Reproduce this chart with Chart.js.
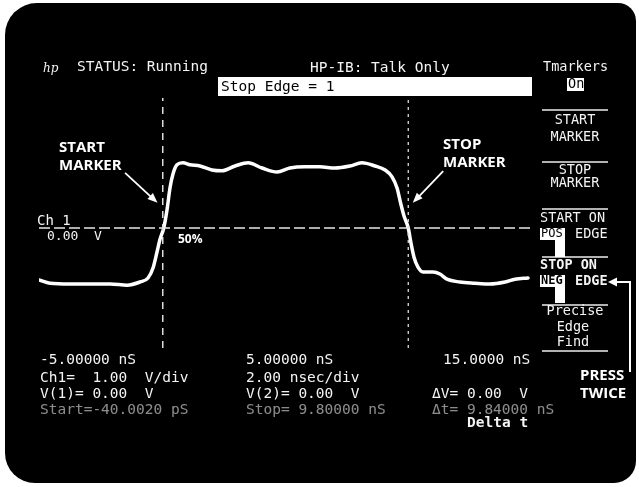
<!DOCTYPE html>
<html><head><meta charset="utf-8">
<script src="https://cdn.jsdelivr.net/npm/chart.js@4.4.0/dist/chart.umd.min.js"></script>
<style>
html,body{margin:0;padding:0;background:#fff;}
#wrap{position:relative;width:639px;height:487px;overflow:hidden;background:#fff;}
#screen{position:absolute;left:5px;top:3px;width:631px;height:480px;background:#000;border-radius:32px 18px 22px 30px;}
#c{position:absolute;left:0;top:0;}
svg{position:absolute;left:0;top:0;}
.t{position:absolute;white-space:pre;color:#f4f4f4;font-family:"DejaVu Sans Mono",monospace;font-size:14.5px;line-height:14.5px;}
.s{font-size:13.5px;line-height:13.5px;}
.dim{color:rgba(255,255,255,0.55);}
.blk{color:#000;}
.b{font-weight:bold;}
.a{position:absolute;white-space:pre;color:#fff;font-family:"Open Sans",sans-serif;font-weight:700;font-size:15px;line-height:15px;}
.ctr{text-align:center;width:70px;}
</style></head>
<body>
<div id="wrap">
<div id="screen"></div>
<canvas id="c" width="639" height="487"></canvas>
<svg width="639" height="487">
  <rect x="218" y="77" width="314" height="19" fill="#fff"/>
  <rect x="567" y="78" width="17" height="13" fill="#fff"/>
  <g stroke="#eee" stroke-width="1.5">
    <line x1="542" y1="110" x2="608" y2="110"/>
    <line x1="542" y1="162" x2="608" y2="162"/>
    <line x1="542" y1="209" x2="608" y2="209"/>
    <line x1="542" y1="257" x2="608" y2="257"/>
    <line x1="542" y1="305" x2="608" y2="305"/>
    <line x1="542" y1="351" x2="608" y2="351"/>
  </g>
  <polygon points="540,228 565,228 565,257 555,257 555,240 540,240" fill="#fff"/>
  <polygon points="540,275 565,275 565,303 555,303 555,287 540,287" fill="#fff"/>
  <polyline points="630,372 630,282 614,282" fill="none" stroke="#fff" stroke-width="2"/>
  <polygon points="608,282 617,277.5 617,286.5" fill="#fff"/>
</svg>

<div class="t" style="left:43px;top:61px;font-family:'DejaVu Serif',serif;font-style:italic;font-size:12px;">hp</div>
<div class="t" style="left:77px;top:59px;">STATUS: Running</div>
<div class="t" style="left:310px;top:60px;">HP-IB: Talk Only</div>
<div class="t blk" style="left:221px;top:79px;">Stop Edge = 1</div>
<div class="t s" style="left:543px;top:60px;">Tmarkers</div>
<div class="t s blk" style="left:568px;top:77px;">On</div>

<div class="t s ctr" style="left:540px;top:113px;">START</div>
<div class="t s ctr" style="left:540px;top:130px;">MARKER</div>
<div class="t s ctr" style="left:540px;top:163px;">STOP</div>
<div class="t s ctr" style="left:540px;top:176px;">MARKER</div>
<div class="t s" style="left:540px;top:211px;">START ON</div>
<div class="t s blk" style="left:541px;top:227px;font-size:12px;">POS</div>
<div class="t s" style="left:575px;top:227px;">EDGE</div>
<div class="t s b" style="left:540px;top:258px;">STOP ON</div>
<div class="t s blk b" style="left:541px;top:274px;font-size:12px;">NEG</div>
<div class="t s b" style="left:575px;top:274px;">EDGE</div>
<div class="t s ctr" style="left:540px;top:304px;">Precise</div>
<div class="t s ctr" style="left:538px;top:320px;">Edge</div>
<div class="t s ctr" style="left:538px;top:335px;">Find</div>

<div class="t" style="left:37px;top:213px;font-size:14px;">Ch 1</div>
<div class="t" style="left:47px;top:229px;font-size:13px;">0.00  V</div>

<div class="t" style="left:40px;top:352px;">-5.00000 nS</div>
<div class="t" style="left:40px;top:370px;">Ch1=  1.00  V/div</div>
<div class="t" style="left:40px;top:386px;">V(1)= 0.00  V</div>
<div class="t dim" style="left:40px;top:402px;">Start=-40.0020 pS</div>

<div class="t" style="left:246px;top:352px;">5.00000 nS</div>
<div class="t" style="left:246px;top:370px;">2.00 nsec/div</div>
<div class="t" style="left:246px;top:386px;">V(2)= 0.00  V</div>
<div class="t dim" style="left:246px;top:402px;">Stop= 9.80000 nS</div>

<div class="t" style="left:443px;top:352px;">15.0000 nS</div>
<div class="t" style="left:432px;top:386px;">ΔV= 0.00  V</div>
<div class="t dim" style="left:432px;top:402px;">Δt= 9.84000 nS</div>
<div class="t b" style="left:467px;top:415px;">Delta t</div>

<div class="a" style="left:59px;top:139px;">START</div>
<div class="a" style="left:59px;top:157px;">MARKER</div>
<div class="a" style="left:443px;top:136px;">STOP</div>
<div class="a" style="left:443px;top:154px;">MARKER</div>
<div class="a" style="left:178px;top:233px;font-size:12px;line-height:12px;">50%</div>
<div class="a" style="left:580px;top:367px;">PRESS</div>
<div class="a" style="left:580px;top:385px;">TWICE</div>
</div>

<script>
// Waveform samples read from the display (time in ns, level in V)
const timeNs = [-5.0,-4.56,-3.76,-2.96,-2.15,-1.47,-0.95,-0.63,-0.43,-0.27,-0.15,0.0,0.13,0.25,0.37,0.53,0.77,1.05,1.45,1.93,2.33,2.86,3.38,3.94,4.54,5.06,5.66,6.26,6.86,7.46,7.94,8.47,8.87,9.15,9.35,9.51,9.63,9.80,9.91,10.03,10.19,10.39,10.79,11.07,11.35,11.87,12.47,13.07,13.68,14.08,14.6];
const volts  = [-1.30,-1.38,-1.40,-1.40,-1.40,-1.43,-1.35,-1.25,-1.00,-0.60,-0.28,0.0,0.45,1.00,1.35,1.58,1.63,1.58,1.55,1.45,1.43,1.55,1.63,1.50,1.40,1.50,1.53,1.53,1.50,1.55,1.63,1.55,1.45,1.28,1.00,0.58,0.30,0.0,-0.38,-0.73,-0.98,-1.10,-1.10,-1.15,-1.28,-1.35,-1.38,-1.40,-1.35,-1.28,-1.25];
// Markers and reference level
const startMarkerNs = -0.04;
const stopMarkerNs = 9.80;
const refLevelV = 0.0;
const refLineEndNs = 14.7;
// Axis ranges (2 ns/div)
const xRange = [-5, 15];
const yRange = [-3.0, 3.25];
// Annotation arrows (data coordinates: [ns, V])
const arrowStart = {from:[-1.55,1.38], to:[-0.25,0.63]};
const arrowStop  = {from:[11.2,1.42], to:[9.98,0.63]};

const trace = timeNs.map((t,i)=>({x:t,y:volts[i]}));

const arrowPlugin = {
  id:'arrows',
  afterDatasetsDraw(chart){
    const {ctx, scales:{x,y}} = chart;
    [arrowStart, arrowStop].forEach(a=>{
      const x1=x.getPixelForValue(a.from[0]), y1=y.getPixelForValue(a.from[1]);
      const x2=x.getPixelForValue(a.to[0]), y2=y.getPixelForValue(a.to[1]);
      const ang=Math.atan2(y2-y1,x2-x1);
      ctx.save();
      ctx.strokeStyle='#fff'; ctx.fillStyle='#fff'; ctx.lineWidth=1.8;
      ctx.beginPath(); ctx.moveTo(x1,y1);
      ctx.lineTo(x2-7*Math.cos(ang), y2-7*Math.sin(ang)); ctx.stroke();
      ctx.beginPath(); ctx.moveTo(x2,y2);
      ctx.lineTo(x2-10*Math.cos(ang)+4*Math.sin(ang), y2-10*Math.sin(ang)-4*Math.cos(ang));
      ctx.lineTo(x2-10*Math.cos(ang)-4*Math.sin(ang), y2-10*Math.sin(ang)+4*Math.cos(ang));
      ctx.closePath(); ctx.fill();
      ctx.restore();
    });
  }
};

new Chart(document.getElementById('c'), {
  type:'scatter',
  data:{datasets:[
    {label:'50% level', data:[{x:xRange[0],y:refLevelV},{x:refLineEndNs,y:refLevelV}], showLine:true, borderColor:'#e8e8e8', borderWidth:1.5, borderDash:[11,4], pointRadius:0},
    {label:'Start marker', data:[{x:startMarkerNs,y:yRange[0]},{x:startMarkerNs,y:yRange[1]}], showLine:true, borderColor:'#dddddd', borderWidth:1.5, borderDash:[7,6], pointRadius:0},
    {label:'Stop marker', data:[{x:stopMarkerNs,y:yRange[0]},{x:stopMarkerNs,y:yRange[1]}], showLine:true, borderColor:'#dddddd', borderWidth:1.3, borderDash:[3,4], pointRadius:0},
    {label:'Ch 1', data:trace, showLine:true, borderColor:'#ffffff', borderWidth:3.5, pointRadius:0, tension:0.35, cubicInterpolationMode:'monotone', borderJoinStyle:'round', borderCapStyle:'round'}
  ]},
  options:{
    responsive:false, animation:false, devicePixelRatio:1,
    layout:{padding:{left:39, right:101, top:98, bottom:139}},
    plugins:{legend:{display:false}, tooltip:{enabled:false}, title:{display:false}},
    scales:{
      x:{type:'linear', min:xRange[0], max:xRange[1], display:false},
      y:{type:'linear', min:yRange[0], max:yRange[1], display:false}
    }
  },
  plugins:[arrowPlugin]
});
</script>
</body></html>
